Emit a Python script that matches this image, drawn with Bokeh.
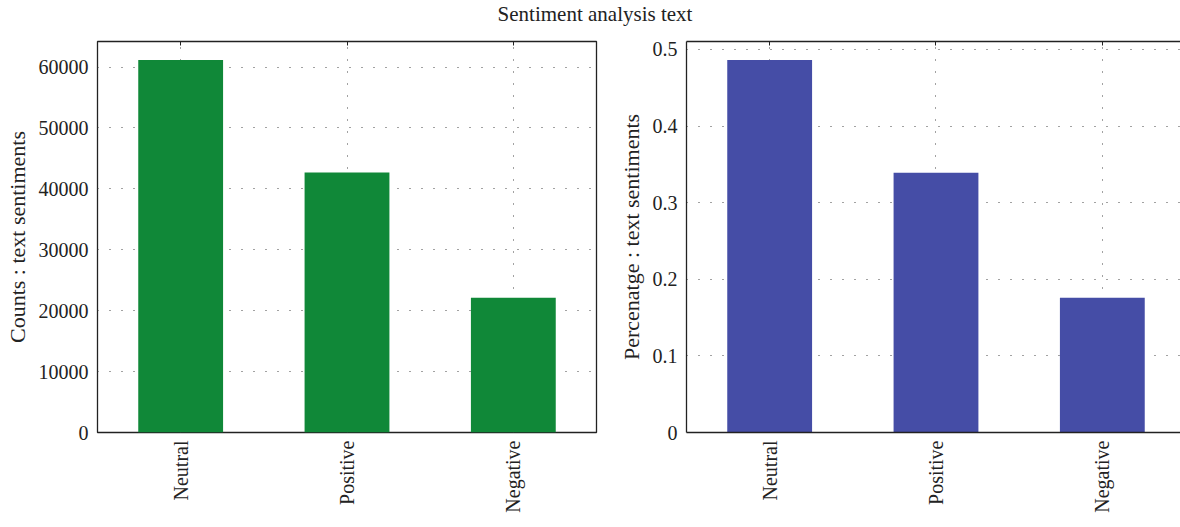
import math
from bokeh.plotting import figure
from bokeh.models import Range1d, FixedTicker, LinearAxis, Div
from bokeh.layouts import column, row
from bokeh.embed import file_html
from bokeh.resources import INLINE

# ---- data ----
categories = ["Neutral", "Positive", "Negative"]
counts = [61140, 42670, 22120]
percentages = [0.486, 0.339, 0.176]
count_ticks = [0, 10000, 20000, 30000, 40000, 50000, 60000]
pct_ticks = [0, 0.1, 0.2, 0.3, 0.4, 0.5]
title_text = "Sentiment analysis text"
left_ylabel = "Counts : text sentiments"
right_ylabel = "Percenatge : text sentiments"

FONT = "Liberation Serif"
TXT = "#222222"
xs = list(range(len(categories)))
cat_labels = {i: c for i, c in enumerate(categories)}


def make(values, ticks, ylabel, color, xend, width, mbl, mbr, ymax, overrides,
         outline, label_standoff):
    p = figure(width=width, height=494, x_range=Range1d(-0.5, xend),
               y_range=Range1d(0, ymax), output_backend="svg",
               toolbar_location=None, min_border_left=mbl, min_border_right=mbr,
               min_border_top=13, min_border_bottom=90)
    p.background_fill_color = "white"
    p.border_fill_color = "white"
    if outline:
        p.outline_line_color = TXT
        p.outline_line_width = 1.3
    else:
        p.outline_line_color = None

    p.vbar(x=xs, top=values, width=0.51, fill_color=color, line_color=None)

    # x axis
    xa = p.xaxis[0]
    xa.ticker = FixedTicker(ticks=xs)
    xa.major_label_overrides = cat_labels
    xa.major_label_orientation = math.pi / 2
    xa.major_label_text_font = FONT
    xa.major_label_text_font_size = "20px"
    xa.major_label_text_color = TXT
    xa.major_label_standoff = 8
    xa.major_tick_out = 0
    xa.major_tick_in = 0
    xa.minor_tick_line_color = None
    xa.axis_line_color = None if outline else TXT
    xa.axis_line_width = 1.3

    # y axis
    ya = p.yaxis[0]
    ya.ticker = FixedTicker(ticks=ticks)
    if overrides:
        ya.major_label_overrides = overrides
    ya.major_label_text_font = FONT
    ya.major_label_text_font_size = "20px"
    ya.major_label_text_color = TXT
    ya.major_label_standoff = 9
    ya.major_tick_out = 0
    ya.major_tick_in = 0
    ya.minor_tick_line_color = None
    ya.axis_line_color = None if outline else TXT
    ya.axis_line_width = 1.3
    ya.axis_label = ylabel
    ya.axis_label_text_font = FONT
    ya.axis_label_text_font_size = "22px"
    ya.axis_label_text_font_style = "normal"
    ya.axis_label_text_color = TXT
    ya.axis_label_standoff = label_standoff

    # top axis with small inward ticks
    top = LinearAxis(ticker=FixedTicker(ticks=xs), major_tick_in=4, major_tick_out=0,
                     minor_tick_line_color=None, major_label_text_alpha=0,
                     major_label_text_font_size="1px", major_label_standoff=0,
                     axis_line_color=None if outline else TXT, axis_line_width=1.3,
                     major_tick_line_color=TXT)
    p.add_layout(top, "above")

    # grids
    for g in (p.xgrid[0], p.ygrid[0]):
        g.grid_line_color = "#444444"
        g.grid_line_dash = "1 11"
        g.grid_line_width = 1
    p.ygrid[0].ticker = FixedTicker(ticks=ticks)
    p.xgrid[0].ticker = FixedTicker(ticks=xs)
    return p


p1 = make(counts, count_ticks, left_ylabel, "#108838", 2.5, 614, 97, 18,
          max(counts) * 1.05, None, True, 6)
p2 = make(percentages, pct_ticks, right_ylabel, "#454DA6", 2.47, 566, 72, 0,
          max(percentages) * 1.05, {0: "0"}, False, 6)

title = Div(text=title_text, width=1180, height=28, margin=(0, 0, 0, 0),
            styles={"text-align": "center", "font-family": FONT,
                    "font-size": "21px", "line-height": "28px", "color": TXT,
                    "width": "1180px", "height": "28px", "text-indent": "10px"})

layout = column(title, row(p1, p2, spacing=0), spacing=0)

open("out.html", "w").write(file_html(layout, INLINE))
